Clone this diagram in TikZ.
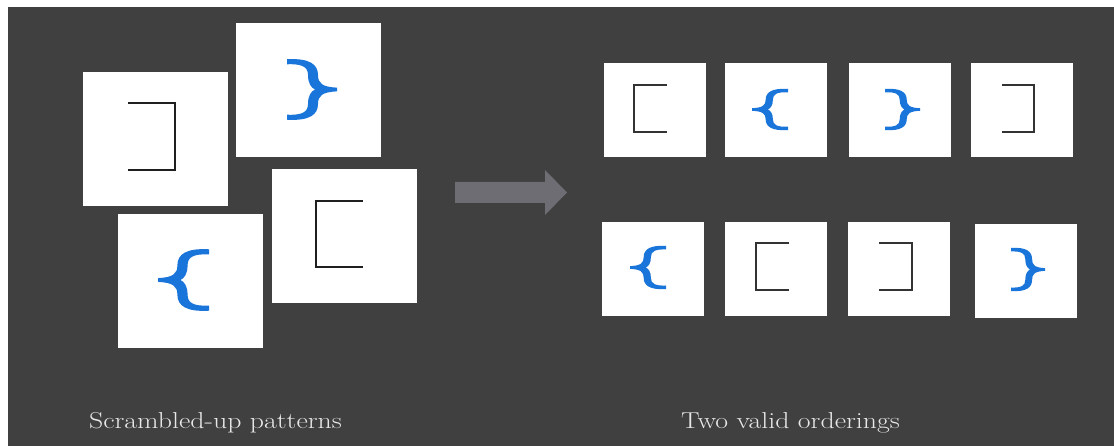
\documentclass[tikz,border=0pt]{standalone}

\definecolor{panel}{HTML}{404040}
\definecolor{braceblue}{HTML}{1A75DA}
\definecolor{arrowgray}{HTML}{6D6D73}
\definecolor{captiongray}{HTML}{E8E8E8}

\tikzset{
  card/.style={fill=white, draw=none, inner sep=0pt,
               minimum width=145pt, minimum height=134pt},
  tile/.style={card, minimum width=102pt, minimum height=94pt},
  sqline/.style={draw=black!88, line width=1.8pt, line cap=butt},
  sqthin/.style={sqline, draw=black!80, line width=1.6pt},
  curlyfill/.style={fill=braceblue, draw=none},
  caption/.style={text=captiongray, inner sep=0pt, anchor=base,
                  font=\fontsize{23}{27}\selectfont},
}

% wide caption lettering
\newcommand\widetext[1]{\scalebox{1.21}[1]{#1}}

% unit-square outline of an opening curly brace (y grows downwards)
\newcommand\curlyshape{%
  (1,0.02) .. controls (0.55,0) and (0.38,0.1) .. (0.38,0.27)
  .. controls (0.38,0.4) and (0.3,0.46) .. (0,0.47)
  -- (0,0.53)
  .. controls (0.3,0.54) and (0.38,0.6) .. (0.38,0.73)
  .. controls (0.38,0.9) and (0.55,1) .. (1,0.98)
  -- (1,0.9)
  .. controls (0.7,0.91) and (0.58,0.86) .. (0.58,0.73)
  .. controls (0.58,0.6) and (0.52,0.53) .. (0.44,0.5)
  .. controls (0.52,0.47) and (0.58,0.4) .. (0.58,0.27)
  .. controls (0.58,0.14) and (0.7,0.09) .. (1,0.1)
  -- cycle}
% #1,#2 top-left corner, #3 width, #4 height
\newcommand\curlyL[4]{%
  \begin{scope}[shift={(#1,#2)}, x=#3pt, y=-#4pt]
    \fill[curlyfill] \curlyshape;
  \end{scope}}
\newcommand\curlyR[4]{%
  \begin{scope}[shift={(#1+#3,#2)}, x=-#3pt, y=-#4pt]
    \fill[curlyfill] \curlyshape;
  \end{scope}}
% square brackets: #1 style, #2 left x, #3 right x, #4 top y, #5 bottom y
\newcommand\sqL[5]{\draw[#1] (#3,#4) -| (#2,#5) -- (#3,#5);}
\newcommand\sqR[5]{\draw[#1] (#2,#4) -| (#3,#5) -- (#2,#5);}

\begin{document}
\begin{tikzpicture}[x=1pt, y=-1pt]
  \useasboundingbox (0,0) rectangle (1114,446);
  \fill[white] (0,0) rectangle (1114,446);
  \fill[panel] (8,7) rectangle (1114,446);

  % scrambled cards
  \node[card] (sa) at (155.5,139) {};
  \node[card] (sb) at (308.5,90) {};
  \node[card] (sc) at (190.5,281) {};
  \node[card] (sd) at (344.5,236) {};
  \sqR{sqline}{128}{175}{103}{170}
  \curlyR{287}{58}{50}{63}
  \curlyL{158}{248}{51}{64}
  \sqL{sqline}{316}{363}{201}{267}

  % block arrow
  \fill[arrowgray] (455,182) -- (545,182) -- (545,170) -- (567,192.5)
    -- (545,215) -- (545,203) -- (455,203) -- cycle;

  % first ordering
  \node[tile] (r1a) at (654.5,110) {};
  \node[tile] (r1b) at (775.5,110) {};
  \node[tile] (r1c) at (900,110) {};
  \node[tile] (r1d) at (1021.5,110) {};
  \sqL{sqthin}{634}{667}{85}{132}
  \curlyL{752}{88}{36}{43}
  \curlyR{885}{88}{35}{43}
  \sqR{sqthin}{1002}{1034}{85}{132}

  % second ordering
  \node[tile] (r2a) at (652.5,269) {};
  \node[tile] (r2b) at (776,269) {};
  \node[tile] (r2c) at (899,269) {};
  \node[tile] (r2d) at (1026,271) {};
  \curlyL{630}{245}{36}{45}
  \sqL{sqthin}{756}{789}{243}{290}
  \sqR{sqthin}{879}{912}{243}{290}
  \curlyR{1011}{247}{34}{45}

  % captions
  \node[caption] (capl) at (215.5,428) {\widetext{Scrambled-up patterns}};
  \node[caption] (capr) at (790.5,428) {\widetext{Two valid orderings}};
\end{tikzpicture}
\end{document}
